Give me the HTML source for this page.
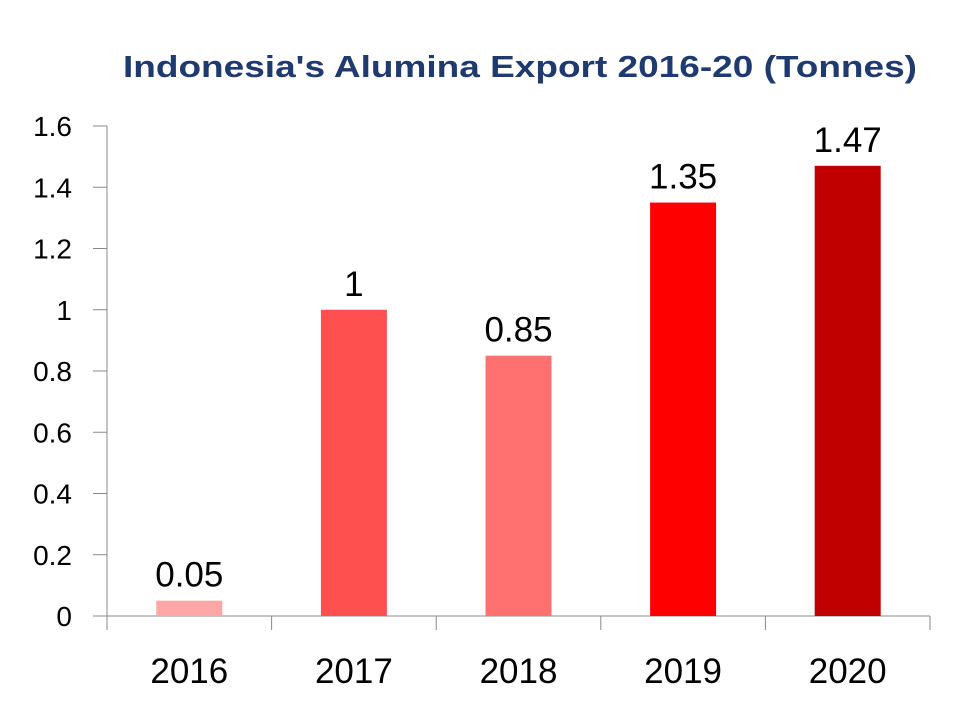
<!DOCTYPE html>
<html><head><meta charset="utf-8"><style>
html,body{margin:0;padding:0;background:#fff;width:960px;height:720px;overflow:hidden}
svg{display:block;font-family:"Liberation Sans",sans-serif}
</style></head><body>
<svg id="chart" width="960" height="720">
<text x="520" y="77" text-anchor="middle" font-size="31" font-weight="bold" fill="#1F3A6E" textLength="794" lengthAdjust="spacingAndGlyphs">Indonesia's Alumina Export 2016-20 (Tonnes)</text>
<g id="axes"></g><g id="bars"></g>
</svg>
<script>
const categories=["2016","2017","2018","2019","2020"];
const values=[0.05,1,0.85,1.35,1.47];
const valueLabels=["0.05","1","0.85","1.35","1.47"];
const yTicks=[0,0.2,0.4,0.6,0.8,1,1.2,1.4,1.6];
const yTickLabels=["0","0.2","0.4","0.6","0.8","1","1.2","1.4","1.6"];
const colors=["#FFA6A6","#FF5050","#FF7070","#FF0000","#C00000"];
const NS="http://www.w3.org/2000/svg";
const x0=107,x1=930,yBase=616,yTop=126,yMax=1.6;
const y=v=>yBase-(v/yMax)*(yBase-yTop);
const bw=(x1-x0)/categories.length;
const xc=i=>x0+bw*(i+0.5);
function mk(tag,attrs,parent){const e=document.createElementNS(NS,tag);for(const k in attrs)e.setAttribute(k,attrs[k]);parent.appendChild(e);return e;}
const axes=document.getElementById('axes'),bars=document.getElementById('bars');
let a=mk('line',{x1:x0,y1:yTop,x2:x0,y2:yBase,stroke:'#888','stroke-width':1},axes);


a=mk('line',{x1:x0,y1:yBase,x2:x1,y2:yBase,stroke:'#888','stroke-width':1},axes);


yTicks.forEach((t,i)=>{
 mk('line',{x1:x0-14,y1:y(t),x2:x0,y2:y(t),stroke:'#888'},axes);
 const tx=mk('text',{x:72,y:y(t)+10,'text-anchor':'end','font-size':28,fill:'#000'},axes);
 tx.textContent=yTickLabels[i];
 
 
});
for(let i=0;i<=categories.length;i++){mk('line',{x1:x0+bw*i,y1:yBase,x2:x0+bw*i,y2:yBase+14,stroke:'#888'},axes);}
categories.forEach((c,i)=>{
 const tx=mk('text',{x:xc(i),y:683,'text-anchor':'middle','font-size':35,fill:'#000'},axes);
 tx.textContent=c;
 
 
 const r=mk('rect',{x:xc(i)-33,y:y(values[i]),width:66,height:yBase-y(values[i]),fill:colors[i]},bars);
 
 
 const l=mk('text',{x:xc(i),y:y(values[i])-14,'text-anchor':'middle','font-size':35,fill:'#000'},bars);
 l.textContent=valueLabels[i];
 
 
});
</script>
</body></html>
